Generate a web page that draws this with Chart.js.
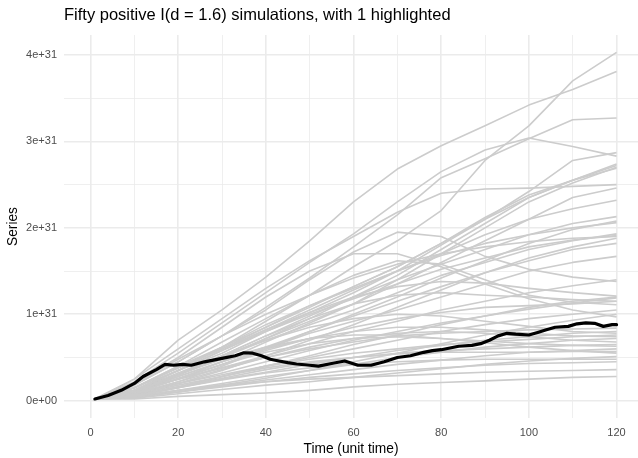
<!DOCTYPE html>
<html>
<head>
<meta charset="utf-8">
<script src="https://cdn.jsdelivr.net/npm/chart.js@4.4.1/dist/chart.umd.min.js"></script>
<style>
html,body{margin:0;padding:0;background:#fff;}
#wrap{position:relative;width:638px;height:458px;}
</style>
</head>
<body>
<div id="wrap"><canvas id="c" width="638" height="458"></canvas></div>
<script>
// Values are in units of 1e+31
const grayTimes = [1,10,20,30,40,50,60,70,80,90,100,110,120];
const s01 = [0.02,0.12,0.35,0.62,0.92,1.22,1.55,1.85,2.20,2.78,3.18,3.70,4.03];
const s02 = [0.02,0.25,0.70,1.05,1.43,1.85,2.30,2.68,2.95,3.18,3.42,3.60,3.81];
const s03 = [0.02,0.18,0.45,0.75,1.08,1.42,1.78,2.15,2.58,2.80,3.03,3.25,3.27];
const s04 = [0.02,0.15,0.38,0.62,0.85,1.08,1.32,1.55,1.82,2.10,2.42,2.78,2.87];
const s05 = [0.02,0.22,0.55,0.90,1.25,1.60,1.93,2.30,2.65,2.90,3.04,2.94,2.83];
const s06 = [0.02,0.10,0.30,0.50,0.72,0.95,1.20,1.45,1.75,2.05,2.35,2.55,2.74];
const s07 = [0.02,0.12,0.35,0.55,0.80,1.02,1.25,1.50,1.80,2.10,2.35,2.55,2.72];
const s08 = [0.02,0.15,0.38,0.60,0.85,1.10,1.32,1.55,1.82,2.12,2.38,2.55,2.69];
const s09 = [0.02,0.08,0.25,0.45,0.68,0.90,1.12,1.40,1.70,2.00,2.30,2.52,2.70];
const s10 = [0.02,0.25,0.60,0.95,1.30,1.62,1.90,2.18,2.40,2.45,2.46,2.48,2.50];
const s11 = [0.02,0.10,0.30,0.50,0.72,0.92,1.12,1.35,1.60,1.85,2.10,2.35,2.46];
const s12 = [0.02,0.15,0.40,0.62,0.88,1.10,1.30,1.50,1.70,1.92,2.10,2.22,2.32];
const s13 = [0.02,0.12,0.30,0.52,0.75,0.98,1.20,1.40,1.58,1.75,1.92,2.05,2.13];
const s14 = [0.02,0.08,0.22,0.40,0.60,0.80,1.00,1.20,1.42,1.62,1.82,1.98,2.08];
const s15 = [0.02,0.15,0.35,0.58,0.82,1.05,1.28,1.50,1.68,1.82,1.92,2.00,2.06];
const s16 = [0.02,0.10,0.30,0.50,0.70,0.88,1.05,1.25,1.45,1.60,1.75,1.85,1.93];
const s17 = [0.02,0.12,0.35,0.58,0.80,1.00,1.18,1.35,1.52,1.65,1.78,1.86,1.91];
const s18 = [0.02,0.08,0.20,0.35,0.52,0.70,0.88,1.08,1.28,1.48,1.65,1.78,1.88];
const s19 = [0.02,0.20,0.48,0.75,1.00,1.22,1.42,1.58,1.70,1.78,1.84,1.88,1.90];
const s20 = [0.02,0.10,0.28,0.45,0.62,0.80,0.98,1.15,1.32,1.48,1.62,1.75,1.82];
const s21 = [0.02,0.10,0.25,0.42,0.60,0.78,0.92,1.05,1.20,1.35,1.50,1.60,1.67];
const s22 = [0.02,0.18,0.45,0.75,1.05,1.40,1.72,1.95,1.90,1.67,1.52,1.43,1.38];
const s23 = [0.02,0.10,0.25,0.38,0.52,0.66,0.80,0.92,1.05,1.15,1.25,1.33,1.40];
const s24 = [0.02,0.15,0.38,0.60,0.82,1.02,1.20,1.32,1.38,1.36,1.30,1.25,1.21];
const s25 = [0.02,0.08,0.20,0.32,0.45,0.58,0.70,0.80,0.90,0.98,1.06,1.13,1.19];
const s26 = [0.02,0.10,0.25,0.42,0.58,0.72,0.85,0.95,1.02,1.08,1.10,1.12,1.15];
const s27 = [0.02,0.15,0.40,0.68,0.95,1.22,1.45,1.62,1.58,1.40,1.22,1.14,1.11];
const s28 = [0.02,0.05,0.15,0.28,0.40,0.52,0.65,0.76,0.88,0.98,1.08,1.15,1.20];
const s29 = [0.02,0.10,0.30,0.52,0.75,0.95,1.12,1.22,1.25,1.22,1.20,1.17,1.15];
const s30 = [0.02,0.06,0.16,0.28,0.40,0.50,0.60,0.70,0.80,0.88,0.95,1.00,1.05];
const s31 = [0.02,0.20,0.50,0.85,1.20,1.50,1.70,1.70,1.55,1.35,1.18,1.05,0.97];
const s32 = [0.02,0.10,0.25,0.38,0.50,0.60,0.68,0.75,0.78,0.80,0.82,0.83,0.84];
const s33 = [0.02,0.06,0.15,0.25,0.33,0.42,0.50,0.58,0.64,0.70,0.74,0.78,0.80];
const s34 = [0.02,0.12,0.32,0.52,0.70,0.85,0.95,1.00,0.98,0.92,0.86,0.80,0.78];
const s35 = [0.02,0.08,0.20,0.30,0.40,0.48,0.55,0.60,0.65,0.68,0.71,0.74,0.76];
const s36 = [0.02,0.10,0.28,0.45,0.60,0.72,0.80,0.85,0.85,0.82,0.78,0.75,0.74];
const s37 = [0.02,0.05,0.12,0.20,0.28,0.35,0.42,0.50,0.56,0.62,0.66,0.70,0.72];
const s38 = [0.02,0.08,0.22,0.36,0.50,0.62,0.72,0.78,0.80,0.78,0.74,0.70,0.68];
const s39 = [0.02,0.06,0.16,0.26,0.36,0.44,0.50,0.55,0.58,0.60,0.62,0.64,0.65];
const s40 = [0.02,0.10,0.26,0.42,0.56,0.66,0.72,0.74,0.72,0.69,0.66,0.64,0.63];
const s41 = [0.02,0.04,0.10,0.17,0.24,0.30,0.36,0.42,0.47,0.52,0.56,0.58,0.60];
const s42 = [0.02,0.07,0.18,0.28,0.38,0.45,0.50,0.54,0.56,0.56,0.56,0.57,0.57];
const s43 = [0.02,0.12,0.30,0.48,0.62,0.72,0.76,0.76,0.72,0.67,0.62,0.58,0.55];
const s44 = [0.02,0.03,0.08,0.13,0.18,0.22,0.27,0.32,0.37,0.42,0.46,0.49,0.51];
const s45 = [0.02,0.06,0.15,0.24,0.32,0.38,0.42,0.45,0.47,0.48,0.48,0.48,0.48];
const s46 = [0.02,0.04,0.10,0.16,0.22,0.27,0.31,0.35,0.38,0.41,0.43,0.44,0.45];
const s47 = [0.02,0.05,0.12,0.18,0.22,0.25,0.27,0.29,0.31,0.33,0.34,0.35,0.36];
const s48 = [0.02,0.02,0.05,0.07,0.09,0.12,0.16,0.19,0.21,0.23,0.25,0.27,0.28];
const s49 = [0.02,0.04,0.10,0.18,0.26,0.35,0.45,0.55,0.66,0.76,0.85,0.93,1.00];
const graySeries = [s01,s02,s03,s04,s05,s06,s07,s08,s09,s10,s11,s12,s13,s14,s15,s16,s17,s18,s19,s20,
  s21,s22,s23,s24,s25,s26,s27,s28,s29,s30,s31,s32,s33,s34,s35,s36,s37,s38,s39,s40,
  s41,s42,s43,s44,s45,s46,s47,s48,s49];

const blackTimes  = [1,4,7,10,12,15,17,19,21,23,26,28,30,33,35,37,39,41,43,45,47,50,52,55,58,61,64,67,70,73,76,78,80,82,84,87,89,91,93,95,97,100,102,104,106,109,111,113,115,117,119,120];
const blackValues = [0.02,0.06,0.12,0.20,0.28,0.36,0.42,0.41,0.42,0.41,0.45,0.47,0.49,0.52,0.555,0.55,0.52,0.48,0.46,0.44,0.425,0.41,0.40,0.43,0.46,0.41,0.41,0.45,0.50,0.52,0.56,0.58,0.59,0.61,0.63,0.64,0.66,0.70,0.75,0.78,0.77,0.76,0.79,0.82,0.85,0.86,0.89,0.90,0.895,0.86,0.88,0.88];

const xTicks = [0,10,20,30,40,50,60,70,80,90,100,110,120];
const xLabels = ['0','','20','','40','','60','','80','','100','','120'];
const yTicks = [0,0.5,1,1.5,2,2.5,3,3.5,4];
const yLabels = ['0e+00','','1e+31','','2e+31','','3e+31','','4e+31'];

const FONT = "'Liberation Sans', Arial, Helvetica, sans-serif";

const datasets = [{
  data: blackTimes.map((t,i)=>({x:t,y:blackValues[i]})),
  borderColor: '#000000', borderWidth: 3.2, pointRadius: 0, tension: 0, order: 0,
  borderJoinStyle: 'round', borderCapStyle: 'round'
}].concat(graySeries.map(s => ({
  data: grayTimes.map((t,i)=>({x:t,y:s[i]})),
  borderColor: '#CCCCCC', borderWidth: 1.6, pointRadius: 0, tension: 0, order: 1,
  borderJoinStyle: 'round'
})));

const gridColor = '#EBEBEB';
function gridWidth(ctx, labels, ticks){
  if (!ctx.tick) return 0;
  const i = ticks.indexOf(ctx.tick.value);
  return (i >= 0 && labels[i] !== '') ? 1.6 : 0.8;
}

new Chart(document.getElementById('c'), {
  type: 'line',
  data: { datasets },
  options: {
    responsive: false,
    animation: false,
    devicePixelRatio: 1,
    layout: { padding: { left: 0, right: 0, top: 0, bottom: 0 } },
    plugins: {
      legend: { display: false },
      tooltip: { enabled: false },
      title: {
        display: true,
        fullSize: false,
        align: 'start',
        text: 'Fifty positive I(d = 1.6) simulations, with 1 highlighted',
        color: '#000000',
        font: { family: FONT, size: 16.5, weight: 'normal', lineHeight: 1.2 },
        padding: { top: 5.1, bottom: 10.1 }
      }
    },
    scales: {
      x: {
        type: 'linear',
        min: -6.05, max: 124.9,
        afterBuildTicks: s => { s.ticks = xTicks.map(v => ({ value: v })); },
        afterFit: s => { s.height = 40; },
        ticks: {
          autoSkip: false, maxRotation: 0, padding: 8.4,
          color: '#4D4D4D',
          font: { family: FONT, size: 11 },
          callback: (v) => { const i = xTicks.indexOf(v); return i >= 0 ? xLabels[i] : ''; }
        },
        grid: {
          drawTicks: false,
          color: gridColor,
          lineWidth: (c) => gridWidth(c, xLabels, xTicks)
        },
        border: { display: false },
        title: {
          display: true, text: 'Time (unit time)', color: '#000000',
          font: { family: FONT, size: 13.75, lineHeight: 1.2 },
          padding: { top: 0, bottom: 0.75 }
        }
      },
      y: {
        type: 'linear',
        min: -0.200, max: 4.231,
        afterBuildTicks: s => { s.ticks = yTicks.map(v => ({ value: v })); },
        afterFit: s => { s.width = 64; },
        ticks: {
          autoSkip: false, padding: 7,
          color: '#4D4D4D',
          font: { family: FONT, size: 11 },
          callback: (v) => { const i = yTicks.indexOf(v); return i >= 0 ? yLabels[i] : ''; }
        },
        grid: {
          drawTicks: false,
          color: gridColor,
          lineWidth: (c) => gridWidth(c, yLabels, yTicks)
        },
        border: { display: false },
        title: {
          display: true, text: 'Series', color: '#000000',
          font: { family: FONT, size: 13.75, lineHeight: 1.2 },
          padding: { top: 5.25, bottom: 0 }
        }
      }
    }
  }
});
</script>
</body>
</html>
